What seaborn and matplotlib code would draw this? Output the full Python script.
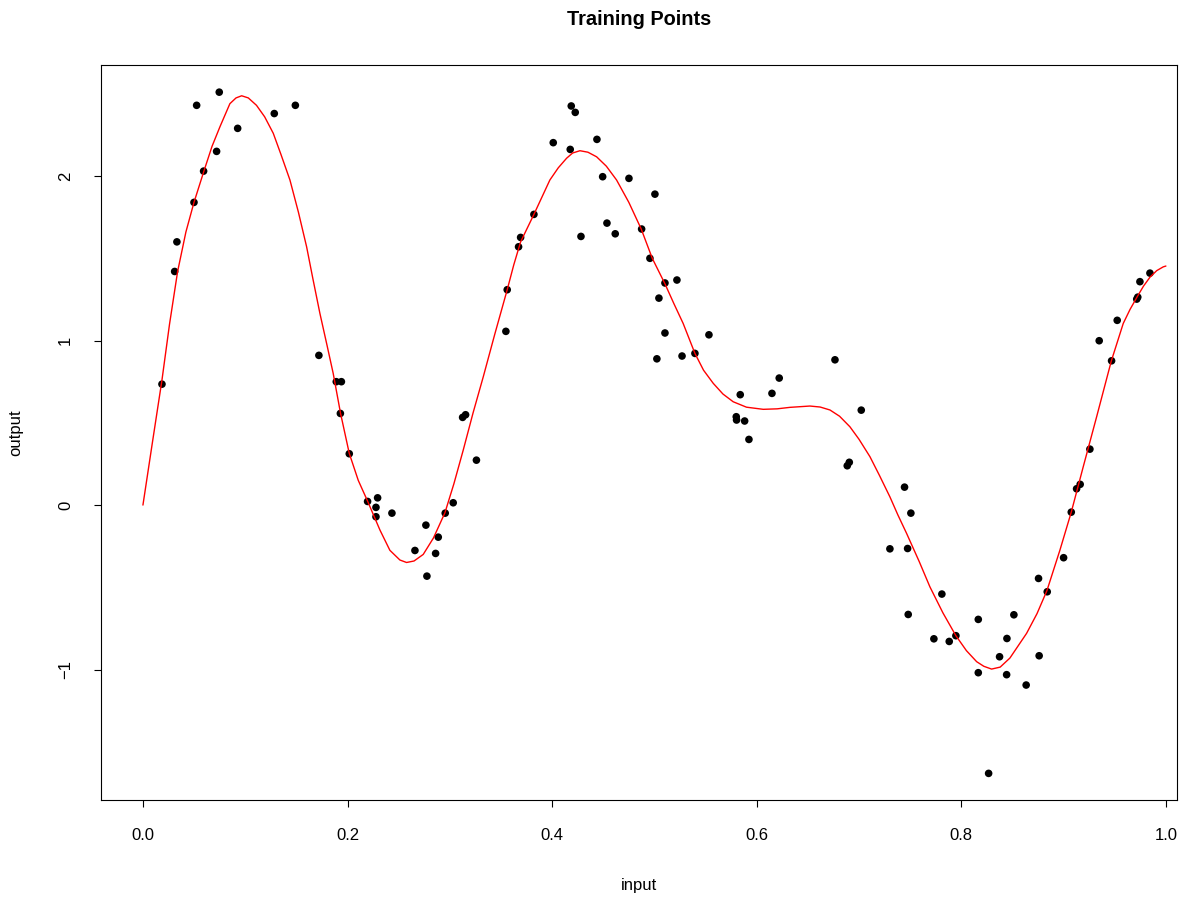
import matplotlib as mpl
import matplotlib.pyplot as plt
import pandas as pd
import seaborn as sns

# training points
train_x = [
    0.0186, 0.0310, 0.0332, 0.0499, 0.0525, 0.0593, 0.0720, 0.0746, 0.0926, 0.1284,
    0.1490, 0.1720, 0.1890, 0.1940, 0.1930, 0.2017, 0.2196, 0.2294, 0.2278, 0.2278,
    0.2434, 0.2659, 0.2766, 0.2776, 0.2861, 0.2887, 0.2955, 0.3033, 0.3125, 0.3154,
    0.3260, 0.3548, 0.3561, 0.3672, 0.3692, 0.3822, 0.4011, 0.4177, 0.4187, 0.4226,
    0.4282, 0.4438, 0.4494, 0.4536, 0.4617, 0.4751, 0.4875, 0.4956, 0.5005, 0.5024,
    0.5044, 0.5103, 0.5103, 0.5220, 0.5270, 0.5396, 0.5533, 0.5800, 0.5803, 0.5839,
    0.5882, 0.5924, 0.6149, 0.6220, 0.6765, 0.6885, 0.6905, 0.7022, 0.7302, 0.7445,
    0.7475, 0.7481, 0.7507, 0.7732, 0.7810, 0.7882, 0.7947, 0.8166, 0.8166, 0.8267,
    0.8374, 0.8443, 0.8446, 0.8514, 0.8634, 0.8755, 0.8761, 0.8840, 0.9000, 0.9075,
    0.9127, 0.9162, 0.9257, 0.9348, 0.9469, 0.9524, 0.9715, 0.9725, 0.9746, 0.9844,
]
train_y = [
    0.735, 1.420, 1.600, 1.840, 2.430, 2.030, 2.150, 2.510, 2.290, 2.380,
    2.430, 0.910, 0.750, 0.750, 0.557, 0.312, 0.022, 0.044, -0.014, -0.071,
    -0.049, -0.276, -0.122, -0.432, -0.294, -0.195, -0.049, 0.014, 0.533, 0.549,
    0.273, 1.056, 1.309, 1.570, 1.627, 1.767, 2.203, 2.162, 2.426, 2.387,
    1.633, 2.223, 1.996, 1.714, 1.649, 1.986, 1.678, 1.500, 1.890, 0.889,
    1.258, 1.350, 1.046, 1.368, 0.906, 0.922, 1.035, 0.537, 0.517, 0.671,
    0.511, 0.399, 0.679, 0.772, 0.883, 0.239, 0.260, 0.577, -0.266, 0.109,
    -0.264, -0.665, -0.049, -0.813, -0.541, -0.829, -0.794, -0.695, -1.019, -1.631,
    -0.922, -1.031, -0.811, -0.667, -1.094, -0.446, -0.916, -0.527, -0.320, -0.043,
    0.099, 0.126, 0.340, 0.999, 0.877, 1.123, 1.252, 1.264, 1.358, 1.410,
]

# red fitted curve, sampled by eye along the drawn line
curve_x = [
    0.0, 0.009, 0.0186, 0.026, 0.0339, 0.042, 0.0499, 0.0596, 0.0675, 0.0753,
    0.085, 0.091, 0.0965, 0.103, 0.111, 0.119, 0.1274, 0.135, 0.1437, 0.152,
    0.16, 0.166, 0.173, 0.18, 0.186, 0.1932, 0.2017, 0.2105, 0.2196, 0.2317,
    0.2414, 0.2512, 0.2577, 0.265, 0.274, 0.284, 0.2952, 0.304, 0.3131, 0.3227,
    0.3327, 0.344, 0.3561, 0.3625, 0.3692, 0.3822, 0.3978, 0.406, 0.4141, 0.42,
    0.4272, 0.435, 0.4435, 0.453, 0.463, 0.475, 0.4871, 0.4979, 0.5103, 0.519,
    0.5281, 0.5396, 0.548, 0.5575, 0.567, 0.577, 0.59, 0.6064, 0.62, 0.6325,
    0.652, 0.662, 0.6716, 0.681, 0.6911, 0.70, 0.7107, 0.72, 0.7302, 0.738,
    0.7465, 0.7589, 0.7693, 0.782, 0.7947, 0.805, 0.815, 0.822, 0.8296, 0.838,
    0.8475, 0.8638, 0.874, 0.8837, 0.8964, 0.9075, 0.9192, 0.9323, 0.9466, 0.9583,
    0.965, 0.9723, 0.978, 0.9844, 0.991, 0.9974, 1.0,
]
curve_y = [
    0.0, 0.37, 0.76, 1.10, 1.42, 1.66, 1.84, 2.03, 2.18, 2.30,
    2.44, 2.475, 2.488, 2.475, 2.43, 2.36, 2.26, 2.13, 1.976, 1.78,
    1.57, 1.38, 1.165, 0.97, 0.80, 0.557, 0.314, 0.15, 0.024, -0.152,
    -0.275, -0.334, -0.349, -0.34, -0.30, -0.20, -0.047, 0.13, 0.334, 0.56,
    0.78, 1.04, 1.309, 1.46, 1.60, 1.767, 1.976, 2.05, 2.108, 2.14,
    2.154, 2.145, 2.117, 2.06, 1.976, 1.84, 1.678, 1.50, 1.345, 1.225,
    1.104, 0.922, 0.82, 0.74, 0.675, 0.628, 0.595, 0.582, 0.585, 0.594,
    0.602, 0.596, 0.578, 0.54, 0.476, 0.40, 0.294, 0.18, 0.05, -0.06,
    -0.172, -0.344, -0.497, -0.655, -0.794, -0.885, -0.952, -0.98, -0.997, -0.985,
    -0.93, -0.78, -0.66, -0.52, -0.274, -0.043, 0.233, 0.537, 0.875, 1.104,
    1.19, 1.27, 1.33, 1.385, 1.425, 1.448, 1.453,
]

x_ticks = [0.0, 0.2, 0.4, 0.6, 0.8, 1.0]
x_tick_labels = ["0.0", "0.2", "0.4", "0.6", "0.8", "1.0"]
y_ticks = [-1, 0, 1, 2]
y_tick_labels = ["\u22121", "0", "1", "2"]


def configure_style() -> None:
    sns.set_theme(style="white")
    mpl.rcParams.update(
        {
            "font.family": ["Liberation Sans", "DejaVu Sans"],
            "font.size": 12,
            "text.color": "black",
            "axes.linewidth": 0.8,
            "axes.edgecolor": "black",
            "axes.labelcolor": "black",
            "axes.titlecolor": "black",
            "xtick.bottom": True,
            "ytick.left": True,
            "xtick.major.size": 5,
            "ytick.major.size": 5,
            "xtick.major.width": 0.8,
            "ytick.major.width": 0.8,
            "xtick.color": "black",
            "ytick.color": "black",
            "xtick.labelsize": 12,
            "ytick.labelsize": 12,
        }
    )


def main() -> None:
    configure_style()
    points = pd.DataFrame({"input": train_x, "output": train_y})
    curve = pd.DataFrame({"input": curve_x, "output": curve_y})

    fig = plt.figure(figsize=(11.91, 8.98), dpi=100)
    ax = fig.add_axes([0.0848, 0.1091, 0.9034, 0.8185])

    sns.scatterplot(data=points, x="input", y="output", ax=ax, color="black",
                    s=30, edgecolor="none", zorder=2)
    sns.lineplot(data=curve, x="input", y="output", ax=ax, color="red",
                 linewidth=1.0, estimator=None, sort=False, zorder=3)

    ax.set_xlim(-0.041, 1.0108)
    ax.set_ylim(-1.793, 2.675)
    ax.set_xticks(x_ticks, x_tick_labels)
    ax.set_yticks(y_ticks, y_tick_labels)
    ax.tick_params(axis="x", pad=15)
    ax.tick_params(axis="y", pad=15)
    for lab in ax.get_yticklabels():
        lab.set_rotation(90)
        lab.set_va("center")
    ax.set_xlabel("input", fontsize=12, labelpad=25)
    ax.set_ylabel("output", fontsize=12, labelpad=25)
    ax.set_title("Training Points", fontsize=14.4, fontweight="bold", pad=29)

    for side in ["top", "right", "bottom", "left"]:
        ax.spines[side].set_visible(True)
        ax.spines[side].set_color("black")

    fig.savefig("out.png", dpi=100, facecolor="white")
    plt.close(fig)


if __name__ == "__main__":
    main()
